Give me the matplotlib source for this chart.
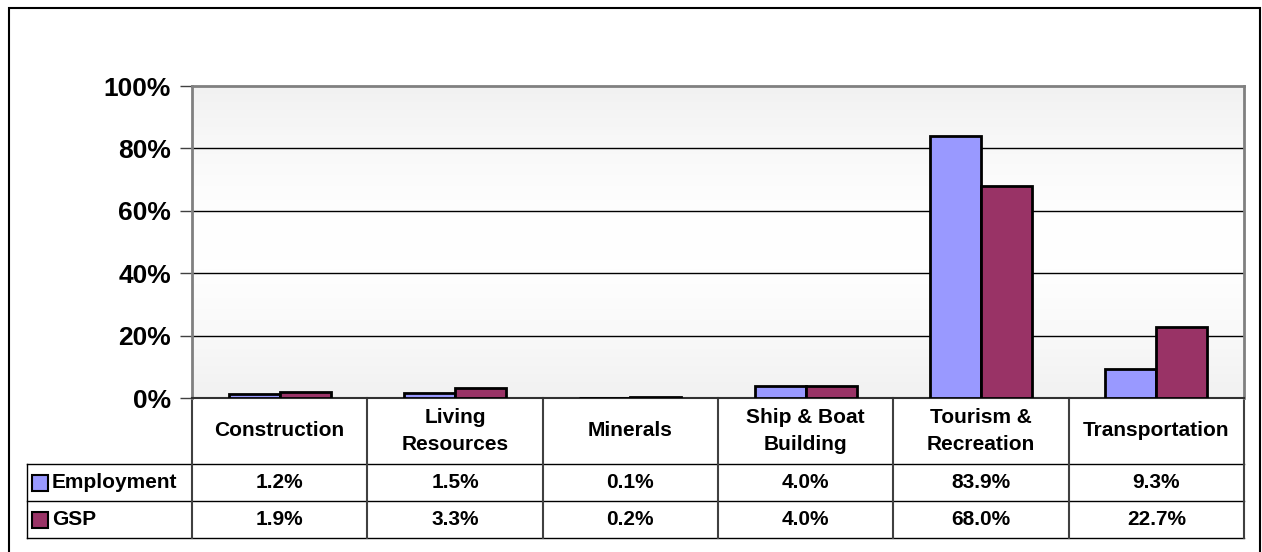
import numpy as np
import matplotlib
matplotlib.use("Agg")
import matplotlib.pyplot as plt
from matplotlib.patches import Rectangle
from matplotlib.lines import Line2D
from matplotlib.transforms import blended_transform_factory

plt.rcParams['font.family'] = ['Liberation Sans', 'DejaVu Sans']
plt.rcParams['font.weight'] = 'bold'

# -- DATA
categories = ["Construction", "Living\nResources", "Minerals", "Ship & Boat\nBuilding",
              "Tourism &\nRecreation", "Transportation"]
employment = [1.2, 1.5, 0.1, 4.0, 83.9, 9.3]
gsp = [1.9, 3.3, 0.2, 4.0, 68.0, 22.7]
series_names = ["Employment", "GSP"]
y_ticks = [0, 20, 40, 60, 80, 100]

EMP_COLOR = "#9999FF"
GSP_COLOR = "#993366"

W, H = 1262, 552
fig = plt.figure(figsize=(W / 100, H / 100), dpi=100)

# plot area in pixels
px_left, px_top, px_right, px_bottom = 192, 86, 1244, 398
ax = fig.add_axes([px_left / W, 1 - px_bottom / H,
                   (px_right - px_left) / W, (px_bottom - px_top) / H])
ax_h = px_bottom - px_top

# outer frame
fig.patches.append(Rectangle((9 / W, -0.05), (1260 - 9) / W, 1.05 - 8 / H,
                             transform=fig.transFigure, fill=False,
                             edgecolor="black", linewidth=1.5))

# background gradient gray -> white -> gray
g = np.abs(np.linspace(-1, 1, 200)) ** 1.5
grad = (1.0 - 0.055 * g).reshape(-1, 1)
ax.imshow(np.dstack([grad, grad, grad]), extent=[0, 1, 0, 1], transform=ax.transAxes,
          aspect="auto", zorder=0)

x = np.arange(len(categories))
bw = 0.29
ax.bar(x - bw / 2, employment, bw, color=EMP_COLOR, edgecolor="black", linewidth=2, zorder=3)
ax.bar(x + bw / 2, gsp, bw, color=GSP_COLOR, edgecolor="black", linewidth=2, zorder=3)

ax.set_xlim(-0.5, len(categories) - 0.5)
ax.set_ylim(0, 100)
ax.set_yticks(y_ticks)
ax.set_yticklabels([f"{t}%" for t in y_ticks], fontsize=19, fontweight="bold")
ax.tick_params(axis="y", length=9, width=1, color="#404040", pad=6)
ax.set_xticks([])
for t in y_ticks[1:-1]:
    ax.axhline(t, color="black", linewidth=1, zorder=1)

for s in ["top", "left", "right"]:
    ax.spines[s].set_color("#808080")
    ax.spines[s].set_linewidth(2)
ax.spines["bottom"].set_color("#303030")
ax.spines["bottom"].set_linewidth(1.5)

# -- DATA TABLE
tr = blended_transform_factory(ax.transData, ax.transAxes)
row_y = [(398 - 464) / ax_h, (398 - 501) / ax_h, (398 - 538) / ax_h]
label_left = (27 - px_left) / (px_right - px_left)

def hline(y, x0):
    ax.add_line(Line2D([x0, 1], [y, y], transform=ax.transAxes, color="black",
                       linewidth=1, clip_on=False))

def vline(xa, y0, y1, color="#404040", lw=1.5):
    ax.add_line(Line2D([xa, xa], [y0, y1], transform=ax.transAxes, color=color,
                       linewidth=lw, clip_on=False))

for y in row_y:
    hline(y, label_left)
vline(label_left, row_y[0], row_y[2], color="black", lw=1)
for i in range(len(categories) + 1):
    vline(i / len(categories), 0, row_y[2])

for i, cat in enumerate(categories):
    ax.text(i, row_y[0] / 2, cat, transform=tr, ha="center", va="center",
            fontsize=15, fontweight="bold", linespacing=1.5)
    ax.text(i, (row_y[0] + row_y[1]) / 2, f"{employment[i]:.1f}%", transform=tr,
            ha="center", va="center", fontsize=15, fontweight="bold")
    ax.text(i, (row_y[1] + row_y[2]) / 2, f"{gsp[i]:.1f}%", transform=tr,
            ha="center", va="center", fontsize=15, fontweight="bold")

key_w = 16 / (px_right - px_left)
key_h = 16 / ax_h
key_x = (32 - px_left) / (px_right - px_left)
for j, (name, col) in enumerate(zip(series_names, [EMP_COLOR, GSP_COLOR])):
    yc = (row_y[j] + row_y[j + 1]) / 2
    ax.add_patch(Rectangle((key_x, yc - key_h / 2), key_w, key_h, transform=ax.transAxes,
                           facecolor=col, edgecolor="black", linewidth=1.5, clip_on=False))
    ax.text(key_x + key_w + 4 / (px_right - px_left), yc, name, transform=ax.transAxes,
            ha="left", va="center", fontsize=15, fontweight="bold")

fig.savefig("out.png", dpi=100)
